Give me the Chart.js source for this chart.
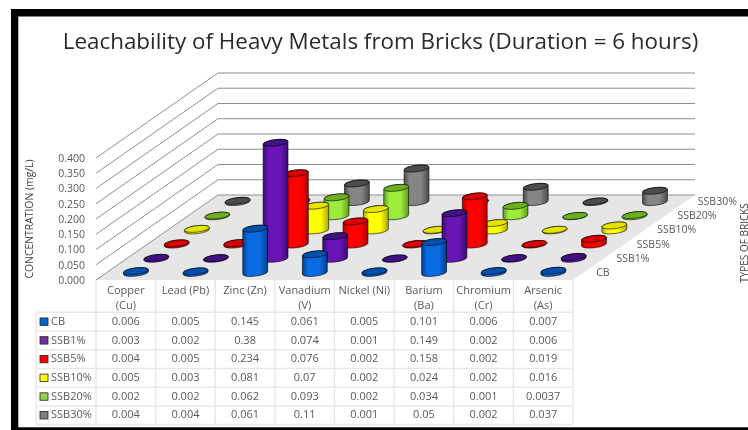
<!DOCTYPE html>
<html>
<head>
<meta charset="utf-8">
<style>
  html, body { margin: 0; padding: 0; background: #fff; }
  canvas { display: block; }
</style>
<script src="https://cdn.jsdelivr.net/npm/chart.js@4/dist/chart.umd.min.js"></script>
</head>
<body>
<canvas id="chart" width="748" height="430"></canvas>
<script>
// Leachability readings in mg/L, one array per brick type
const metals = ["Copper (Cu)", "Lead (Pb)", "Zinc (Zn)", "Vanadium (V)", "Nickel (Ni)", "Barium (Ba)", "Chromium (Cr)", "Arsenic (As)"];
const singleLineHeaders = ["Lead (Pb)", "Zinc (Zn)", "Nickel (Ni)"];
const cb     = [0.006, 0.005, 0.145, 0.061, 0.005, 0.101, 0.006, 0.007];
const ssb1   = [0.003, 0.002, 0.38,  0.074, 0.001, 0.149, 0.002, 0.006];
const ssb5   = [0.004, 0.005, 0.234, 0.076, 0.002, 0.158, 0.002, 0.019];
const ssb10  = [0.005, 0.003, 0.081, 0.07,  0.002, 0.024, 0.002, 0.016];
const ssb20  = [0.002, 0.002, 0.062, 0.093, 0.002, 0.034, 0.001, 0.0037];
const ssb30  = [0.004, 0.004, 0.061, 0.11,  0.001, 0.05,  0.002, 0.037];
const brickTypes = ["CB", "SSB1%", "SSB5%", "SSB10%", "SSB20%", "SSB30%"];
const brickValues = [cb, ssb1, ssb5, ssb10, ssb20, ssb30];

// Shading per brick type
const bodyColors = ["#0a6ce2", "#6a14b8", "#ff0000", "#ffff00", "#9cec3c", "#858585"];
const edgeColors = ["#003f8c", "#3a0a6e", "#b00000", "#a8a800", "#5f9a1e", "#4a4a4a"];
const capColors  = ["#0050ac", "#3f1282", "#d80000", "#e4e400", "#6ab020", "#4c4c4c"];
const swatchColors = ["#0066cc", "#7030a0", "#ff0000", "#ffff00", "#92d050", "#7f7f7f"];

// Oblique projection: how far the back plane is shifted from the front plane
const DEPTH_X = 122;
const DEPTH_Y = 85;
const TEXT = "#595959";
const FONT = '"Open Sans", sans-serif';

function slot(series) {
  return {
    dx: (series + 0.5) * DEPTH_X / brickTypes.length,
    dy: -(series + 0.5) * DEPTH_Y / brickTypes.length
  };
}

function drawCylinder(ctx, cx, top, base, halfWidth, series) {
  const ry = 3.2, tilt = -0.12;
  const grad = ctx.createLinearGradient(cx - halfWidth, 0, cx + halfWidth, 0);
  grad.addColorStop(0, edgeColors[series]);
  grad.addColorStop(0.22, bodyColors[series]);
  grad.addColorStop(0.68, bodyColors[series]);
  grad.addColorStop(1, edgeColors[series]);
  ctx.save();
  ctx.lineWidth = 0.8;
  ctx.strokeStyle = "rgba(0,0,0,0.75)";
  ctx.beginPath();
  ctx.ellipse(cx, base, halfWidth, ry, tilt, 0, Math.PI);
  ctx.ellipse(cx, top, halfWidth, ry, tilt, Math.PI, Math.PI * 2);
  ctx.closePath();
  ctx.fillStyle = grad;
  ctx.fill();
  ctx.stroke();
  ctx.beginPath();
  ctx.ellipse(cx, top, halfWidth, ry, tilt, 0, Math.PI * 2);
  ctx.fillStyle = capColors[series];
  ctx.fill();
  ctx.stroke();
  ctx.restore();
}

// Bar controller that paints each bar as a cylinder on its own depth row
class Cylinder3DController extends Chart.BarController {
  draw() {
    const meta = this.getMeta();
    const { dx, dy } = slot(meta.index);
    meta.data.forEach(bar => {
      drawCylinder(this.chart.ctx, bar.x + dx, bar.y + dy, bar.base + dy, bar.width / 2, meta.index);
    });
  }
}
Cylinder3DController.id = "cylinder3d";
Cylinder3DController.defaults = Chart.BarController.defaults;
Cylinder3DController.overrides = Chart.BarController.overrides;
Chart.register(Cylinder3DController);

// Outer frame of the figure
const framePlugin = {
  id: "frame",
  beforeDraw(chart) {
    const ctx = chart.ctx;
    ctx.save();
    ctx.fillStyle = "#000";
    ctx.fillRect(11, 9, 737, 7.5);
    ctx.fillRect(11, 9, 7.3, 421);
    ctx.fillRect(11, 427.3, 737, 2.7);
    ctx.restore();
  }
};

// Floor, side wall and back wall, following the value axis ticks
const wallsPlugin = {
  id: "walls",
  beforeDatasetsDraw(chart) {
    const { ctx, chartArea: area, scales: { y } } = chart;
    const zero = y.getPixelForValue(0);
    ctx.save();
    ctx.fillStyle = "#e6e6e6";
    ctx.beginPath();
    ctx.moveTo(area.left, zero);
    ctx.lineTo(area.right, zero);
    ctx.lineTo(area.right + DEPTH_X, zero - DEPTH_Y);
    ctx.lineTo(area.left + DEPTH_X, zero - DEPTH_Y);
    ctx.closePath();
    ctx.fill();
    ctx.strokeStyle = "#8f8f8f";
    ctx.lineWidth = 1;
    y.ticks.forEach(t => {
      const py = y.getPixelForValue(t.value);
      ctx.beginPath();
      ctx.moveTo(area.left, py);
      ctx.lineTo(area.left + DEPTH_X, py - DEPTH_Y);
      ctx.lineTo(area.right + DEPTH_X, py - DEPTH_Y);
      ctx.stroke();
    });
    ctx.restore();
  }
};

// Depth axis labels and the data table underneath the plot
const tablePlugin = {
  id: "dataTable",
  afterDraw(chart) {
    const { ctx, chartArea: area, scales: { y } } = chart;
    const zero = y.getPixelForValue(0);
    ctx.save();

    ctx.fillStyle = TEXT;
    ctx.font = "10.5px " + FONT;
    ctx.textAlign = "left";
    ctx.textBaseline = "middle";
    brickTypes.forEach((name, s) => {
      const { dx, dy } = slot(s);
      ctx.fillText(name, area.right + dx + 13, zero + dy);
    });

    ctx.save();
    ctx.translate(745, 243);
    ctx.rotate(-Math.PI / 2);
    ctx.textAlign = "center";
    ctx.fillStyle = "#404040";
    ctx.font = "10px " + FONT;
    ctx.fillText("TYPES OF BRICKS", 0, 0);
    ctx.restore();

    const colW = (area.right - area.left) / metals.length;
    const headerBottom = 312.3;
    const rowH = 18.72;
    const keyLeft = 36;

    ctx.strokeStyle = "#e8e8e8";
    ctx.lineWidth = 1.5;
    for (let c = 0; c <= metals.length; c++) {
      const x = area.left + c * colW;
      ctx.beginPath();
      ctx.moveTo(x, zero);
      ctx.lineTo(x, headerBottom + rowH * brickTypes.length);
      ctx.stroke();
    }
    ctx.beginPath();
    ctx.moveTo(keyLeft, headerBottom);
    ctx.lineTo(keyLeft, headerBottom + rowH * brickTypes.length);
    ctx.stroke();
    for (let r = 0; r <= brickTypes.length; r++) {
      const ry = headerBottom + r * rowH;
      ctx.beginPath();
      ctx.moveTo(keyLeft, ry);
      ctx.lineTo(area.right, ry);
      ctx.stroke();
    }

    ctx.font = "11px " + FONT;
    ctx.fillStyle = TEXT;
    ctx.textAlign = "center";
    metals.forEach((m, c) => {
      const cx = area.left + (c + 0.5) * colW;
      if (singleLineHeaders.includes(m)) {
        ctx.fillText(m, cx, 291);
      } else {
        const parts = m.split(" ");
        ctx.fillText(parts[0], cx, 291);
        ctx.fillText(parts[1], cx, 305.5);
      }
    });

    brickTypes.forEach((name, s) => {
      const cy = headerBottom + (s + 0.5) * rowH;
      ctx.fillStyle = swatchColors[s];
      ctx.fillRect(40, cy - 3.7, 8, 7.4);
      ctx.strokeStyle = "#222";
      ctx.lineWidth = 0.8;
      ctx.strokeRect(40, cy - 3.7, 8, 7.4);
      ctx.fillStyle = TEXT;
      ctx.textAlign = "left";
      ctx.fillText(name, 51, cy);
      ctx.textAlign = "center";
      brickValues[s].forEach((v, c) => {
        ctx.fillText(String(v), area.left + (c + 0.5) * colW, cy);
      });
    });
    ctx.restore();
  }
};

new Chart(document.getElementById("chart"), {
  type: "cylinder3d",
  data: {
    labels: metals,
    datasets: brickTypes.map((name, s) => ({
      label: name,
      data: brickValues[s],
      backgroundColor: bodyColors[s],
      clip: false
    }))
  },
  options: {
    responsive: false,
    animation: false,
    devicePixelRatio: 1,
    grouped: false,
    categoryPercentage: 0.42,
    barPercentage: 1,
    layout: { padding: { left: 13, right: 0, top: 16, bottom: 150 } },
    plugins: {
      legend: { display: false },
      tooltip: { enabled: false },
      title: {
        display: true,
        text: "Leachability of Heavy Metals from Bricks (Duration = 6 hours)",
        color: "#2b2b2b",
        font: { family: FONT, size: 22.4, weight: "normal" },
        padding: { top: 13.5, bottom: 101.6 }
      }
    },
    scales: {
      x: { display: false },
      y: {
        min: 0,
        max: 0.4,
        position: "left",
        grid: { display: false, drawTicks: false },
        border: { display: false },
        afterFit(scale) { scale.width = 83; },
        ticks: {
          stepSize: 0.05,
          autoSkip: false,
          padding: 11,
          labelOffset: 1,
          color: TEXT,
          font: { family: FONT, size: 10.5 },
          callback: v => v.toFixed(3)
        },
        title: {
          display: true,
          text: "CONCENTRATION (mg/L)",
          color: "#404040",
          font: { family: FONT, size: 10.4 },
          padding: { top: 11, bottom: 0 }
        }
      },
      depthGutter: {
        type: "linear",
        position: "right",
        grid: { display: false, drawTicks: false },
        border: { display: false },
        ticks: { display: false },
        afterFit(scale) { scale.width = 175; }
      }
    }
  },
  plugins: [framePlugin, wallsPlugin, tablePlugin]
});
</script>
</body>
</html>
